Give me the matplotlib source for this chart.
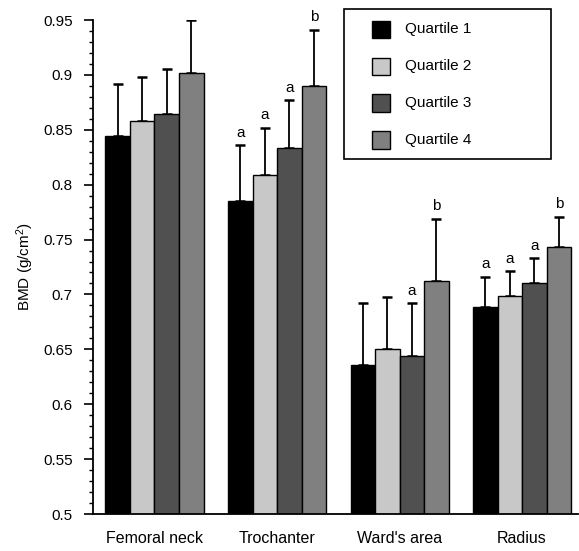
import matplotlib.pyplot as plt
import numpy as np
from matplotlib.patches import Rectangle
from matplotlib.ticker import MultipleLocator, FuncFormatter

plt.rcParams['font.family'] = ['Liberation Sans', 'DejaVu Sans']
plt.rcParams['mathtext.default'] = 'regular'

sites = ["Femoral neck", "Trochanter", "Ward's area", "Radius"]
quartiles = ["Quartile 1", "Quartile 2", "Quartile 3", "Quartile 4"]
colors = ["#000000", "#c8c8c8", "#505050", "#808080"]

# mean BMD per site, one list per quartile
bmd_q1 = [0.844, 0.785, 0.636, 0.689]
bmd_q2 = [0.858, 0.809, 0.650, 0.699]
bmd_q3 = [0.864, 0.833, 0.644, 0.710]
bmd_q4 = [0.902, 0.890, 0.712, 0.743]

# upper error (SD)
sd_q1 = [0.048, 0.051, 0.056, 0.027]
sd_q2 = [0.040, 0.043, 0.048, 0.022]
sd_q3 = [0.041, 0.044, 0.048, 0.023]
sd_q4 = [0.048, 0.051, 0.057, 0.028]

# significance letters
sig_q1 = ["", "a", "", "a"]
sig_q2 = ["", "a", "", "a"]
sig_q3 = ["", "a", "a", "a"]
sig_q4 = ["", "b", "b", "b"]

bmd = [bmd_q1, bmd_q2, bmd_q3, bmd_q4]
sd = [sd_q1, sd_q2, sd_q3, sd_q4]
sig = [sig_q1, sig_q2, sig_q3, sig_q4]

fig = plt.figure(figsize=(5.79, 5.51), dpi=100)
ax = fig.add_axes([93/579, 1 - 514/551, 485/579, 494/551])

x = np.arange(len(sites))
w = 0.2
for i in range(4):
    xs = x + (i - 1.5) * w
    ax.bar(xs, bmd[i], width=w, color=colors[i], edgecolor="black", linewidth=1.0, zorder=2)
    ax.errorbar(xs, bmd[i], yerr=[np.zeros(4), sd[i]], fmt="none", ecolor="black",
                elinewidth=1.3, capsize=3.5, capthick=1.8, zorder=1)
    for j in range(4):
        if sig[i][j]:
            ax.text(xs[j], bmd[i][j] + sd[i][j] + 0.005, sig[i][j], ha="center", va="bottom",
                    fontsize=11)

ax.set_xlim(-0.502, 3.457)
ax.set_ylim(0.5, 0.95)
ax.set_xticks(x)
ax.set_xticklabels(sites, fontsize=11.5)
ax.tick_params(axis="x", length=0, pad=12)
ax.yaxis.set_major_locator(MultipleLocator(0.05))
ax.yaxis.set_minor_locator(MultipleLocator(0.01))
ax.yaxis.set_major_formatter(FuncFormatter(lambda v, p: "%g" % round(v, 2)))
ax.tick_params(axis="y", which="major", length=6.5, width=1.2, labelsize=11, pad=8)
ax.tick_params(axis="y", which="minor", length=3, width=1.0)
ax.set_ylabel("BMD (g/cm$^2$)", fontsize=11, labelpad=5)

for s in ["top", "right"]:
    ax.spines[s].set_visible(False)
ax.spines["left"].set_linewidth(1.3)
ax.spines["bottom"].set_linewidth(1.3)

# legend box
def px(xp, yp):
    return ((xp - 93) / 485, (514 - yp) / 494)

bx0, by0 = px(344, 159)
bx1, by1 = px(551, 9)
ax.add_patch(Rectangle((bx0, by0), bx1 - bx0, by1 - by0, transform=ax.transAxes,
                       facecolor="white", edgecolor="black", linewidth=1.2, clip_on=False, zorder=5))
for i, yc in enumerate([29, 66, 103, 140]):
    hx, hy = px(372, yc + 8.5)
    hx1, hy1 = px(390, yc - 8.5)
    ax.add_patch(Rectangle((hx, hy), hx1 - hx, hy1 - hy, transform=ax.transAxes,
                           facecolor=colors[i], edgecolor="black", linewidth=1.0,
                           clip_on=False, zorder=6))
    tx, ty = px(405, yc)
    ax.text(tx, ty, quartiles[i], transform=ax.transAxes, ha="left", va="center",
            fontsize=11, zorder=6)

fig.savefig("out.png", dpi=100)
